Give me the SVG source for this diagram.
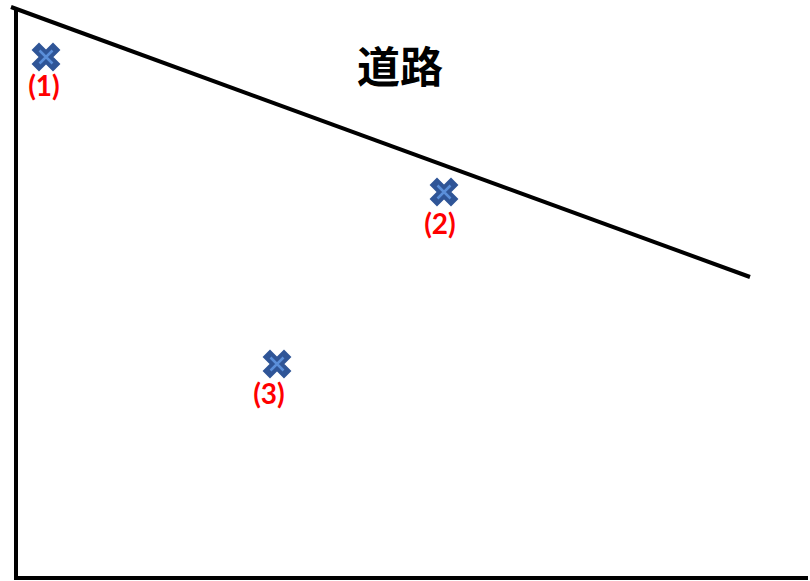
<svg xmlns="http://www.w3.org/2000/svg" width="810" height="581" viewBox="0 0 810 581">
<style>
.ln{stroke:#000;stroke-width:4;fill:none}
.xo{stroke:#2F5597;stroke-width:10.5;stroke-linecap:square;fill:none}
.xi{stroke:#5B8FD9;stroke-width:2.5;fill:none}
.lb{font-family:"Lato","Liberation Sans",sans-serif;font-weight:bold;font-size:28px;fill:#FF0000;text-anchor:middle}
.tt{font-family:"Noto Sans CJK JP",sans-serif;font-weight:bold;font-size:43px;fill:#000;text-anchor:middle}
</style>
<defs>
<g id="cross">
<path class="xo" d="M-7,-7L7,7M7,-7L-7,7"/>
<path class="xi" d="M-6.5,-6.5L6.5,6.5M6.5,-6.5L-6.5,6.5"/>
</g>
</defs>
<rect width="810" height="581" fill="#fff"/>
<g id="connectors">
<path class="ln" d="M16,8V578H808" stroke-width="5"/>
<path class="ln" d="M11,7L750,277"/>
</g>
<g id="road"><text class="tt" x="400" y="83">道路</text></g>
<g id="p1"><use href="#cross" x="46" y="57"/><text class="lb" x="44" y="96">(1)</text></g>
<g id="p2"><use href="#cross" x="444" y="192"/><text class="lb" x="440" y="234">(2)</text></g>
<g id="p3"><use href="#cross" x="277" y="364"/><text class="lb" x="269" y="404">(3)</text></g>
</svg>
